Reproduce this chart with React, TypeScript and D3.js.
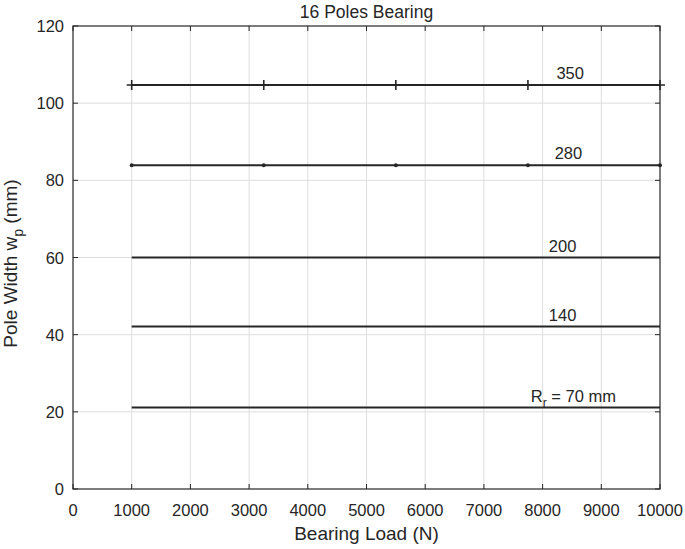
import React, { useEffect, useRef } from "react";
import * as d3 from "d3";

// bearing load samples (N) and pole width per rotor radius
const loads = [1000, 3250, 5500, 7750, 10000];
const radii = ["350", "280", "200", "140", "70"];
const widths350 = [104.7, 104.7, 104.7, 104.7, 104.7];
const widths280 = [83.9, 83.9, 83.9, 83.9, 83.9];
const widths200 = [60, 60, 60, 60, 60];
const widths140 = [42.1, 42.1, 42.1, 42.1, 42.1];
const widths70 = [21.1, 21.1, 21.1, 21.1, 21.1];
const xTicks = [0, 1000, 2000, 3000, 4000, 5000, 6000, 7000, 8000, 9000, 10000];
const yTicks = [0, 20, 40, 60, 80, 100, 120];
// label anchor (load) for each curve
const labelLoads = [8470, 8440, 8340, 8340, 7800];

const App = () => {
  const ref = useRef<SVGSVGElement>(null);

  useEffect(() => {
    const W = 685, H = 549;
    const m = { left: 73, right: 25, top: 26, bottom: 60 };
    const w = W - m.left - m.right;
    const h = H - m.top - m.bottom;
    const svg = d3.select(ref.current);
    svg.selectAll("*").remove();
    svg.attr("width", W).attr("height", H)
      .style("display", "block")
      .style("font-family", "'Liberation Sans', Arial, sans-serif");

    const x = d3.scaleLinear().domain([0, 10000]).range([0, w]);
    const y = d3.scaleLinear().domain([0, 120]).range([h, 0]);

    const g = svg.append("g").attr("transform", `translate(${m.left},${m.top})`);

    // grid
    g.append("g").selectAll("line").data(xTicks.slice(1, -1)).join("line")
      .attr("x1", d => x(d)).attr("x2", d => x(d)).attr("y1", 0).attr("y2", h)
      .attr("stroke", "#dedede").attr("stroke-width", 1);
    g.append("g").selectAll("line").data(yTicks.slice(1, -1)).join("line")
      .attr("y1", d => y(d)).attr("y2", d => y(d)).attr("x1", 0).attr("x2", w)
      .attr("stroke", "#dedede").attr("stroke-width", 1);

    const series = [widths350, widths280, widths200, widths140, widths70];
    const line = d3.line<number>().x((_, i) => x(loads[i])).y(d => y(d));
    const ink = "#262626";

    series.forEach((s, k) => {
      g.append("path").attr("d", line(s)).attr("fill", "none")
        .attr("stroke", ink).attr("stroke-width", 2);
      if (k === 0) {
        g.append("g").selectAll("path").data(s).join("path")
          .attr("d", (d, i) => {
            const cx = x(loads[i]), cy = y(d);
            return `M${cx - 5},${cy}H${cx + 5}M${cx},${cy - 5}V${cy + 5}`;
          })
          .attr("stroke", ink).attr("stroke-width", 1.6);
      } else if (k === 1) {
        g.append("g").selectAll("circle").data(s).join("circle")
          .attr("cx", (d, i) => x(loads[i])).attr("cy", d => y(d)).attr("r", 2)
          .attr("fill", ink);
      }
    });

    // curve labels
    series.forEach((s, k) => {
      const t = g.append("text").attr("x", x(labelLoads[k])).attr("y", y(s[0]) - 6)
        .attr("font-size", 16.5).attr("fill", ink);
      if (radii[k] === "70") {
        t.append("tspan").text("R");
        t.append("tspan").attr("font-size", 12).attr("dy", 5).text("r");
        t.append("tspan").attr("dy", -5).text(" = 70 mm");
      } else {
        t.attr("text-anchor", "middle").text(radii[k]);
      }
    });

    // box + inward ticks
    g.append("rect").attr("width", w).attr("height", h).attr("fill", "none")
      .attr("stroke", ink).attr("stroke-width", 1.2);
    const tl = 5;
    g.append("g").selectAll("path").data(xTicks).join("path")
      .attr("d", d => `M${x(d)},${h}v${-tl}M${x(d)},0v${tl}`)
      .attr("stroke", ink);
    g.append("g").selectAll("path").data(yTicks).join("path")
      .attr("d", d => `M0,${y(d)}h${tl}M${w},${y(d)}h${-tl}`)
      .attr("stroke", ink);

    g.append("g").selectAll("text").data(xTicks).join("text")
      .attr("x", d => x(d)).attr("y", h + 26.5).attr("text-anchor", "middle")
      .attr("font-size", 16.5).attr("fill", ink).text(d => String(d));
    g.append("g").selectAll("text").data(yTicks).join("text")
      .attr("x", -9).attr("y", d => y(d) + 6).attr("text-anchor", "end")
      .attr("font-size", 16.5).attr("fill", ink).text(d => String(d));

    // title & axis labels
    svg.append("text").attr("x", m.left + w / 2).attr("y", 18).attr("text-anchor", "middle")
      .attr("font-size", 17.5).attr("fill", ink).text("16 Poles Bearing");
    svg.append("text").attr("x", m.left + w / 2).attr("y", H - 9).attr("text-anchor", "middle")
      .attr("font-size", 19).attr("fill", ink).text("Bearing Load (N)");
    const yl = svg.append("text").attr("transform", `translate(17,${m.top + h / 2 + 6}) rotate(-90)`)
      .attr("text-anchor", "middle").attr("font-size", 19).attr("fill", ink);
    yl.append("tspan").text("Pole Width w");
    yl.append("tspan").attr("font-size", 14).attr("dy", 6).text("p");
    yl.append("tspan").attr("dy", -6).text(" (mm)");
  }, []);

  return (
    <div style={{ position: "absolute", left: 0, top: 0 }}>
      <svg ref={ref}></svg>
    </div>
  );
};

export default App;
